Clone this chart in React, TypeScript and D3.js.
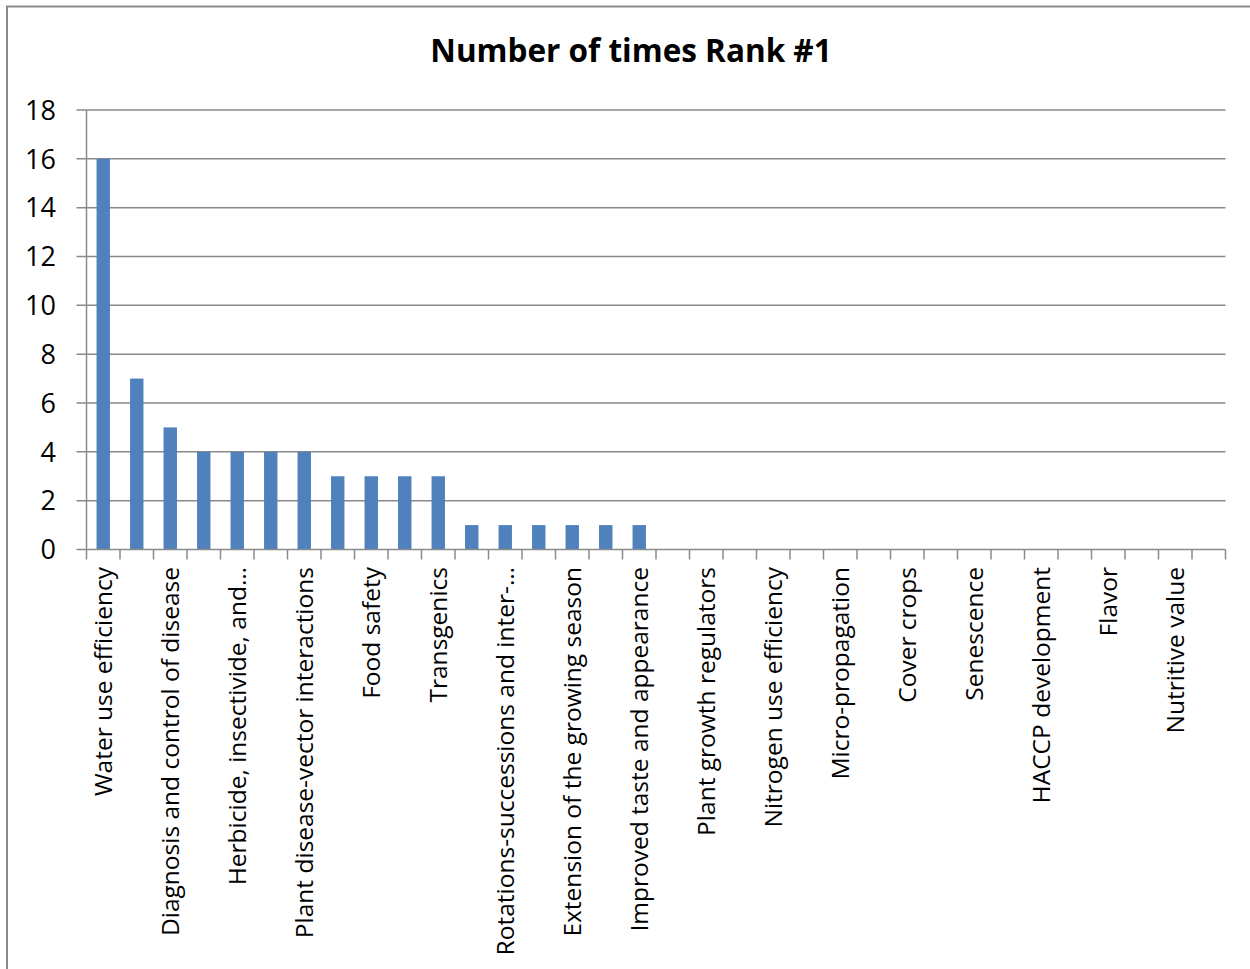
import React from "react";
import * as d3 from "d3";

// Category labels; Excel-style axis shows every second one, so alternate entries are blank
const categories: string[] = [
  "Water use efficiency", "",
  "Diagnosis and control of disease", "",
  "Herbicide, insectivide, and…", "",
  "Plant disease-vector interactions", "",
  "Food safety", "",
  "Transgenics", "",
  "Rotations-successions and inter-…", "",
  "Extension of the growing season", "",
  "Improved taste and appearance", "",
  "Plant growth regulators", "",
  "Nitrogen use efficiency", "",
  "Micro-propagation", "",
  "Cover crops", "",
  "Senescence", "",
  "HACCP development", "",
  "Flavor", "",
  "Nutritive value", "",
];

const rankOneCounts: number[] = [
  16, 7, 5, 4, 4, 4, 4, 3, 3, 3, 3, 1, 1, 1, 1, 1, 1,
  0, 0, 0, 0, 0, 0, 0, 0, 0, 0, 0, 0, 0, 0, 0, 0, 0,
];

const yTicks: number[] = [0, 2, 4, 6, 8, 10, 12, 14, 16, 18];

const chartTitle = "Number of times Rank #1";

const W = 1250;
const H = 969;
const plot = { left: 86.5, right: 1225.5, top: 110, bottom: 549.5 };
const FONT = "'Open Sans', 'Noto Sans', sans-serif";
const GRID = "#8a8a8a";
const BAR = "#4f81bd";

export default function App() {
  const idx = categories.map((_, i) => i);
  const x = d3
    .scaleBand<number>()
    .domain(idx)
    .range([plot.left, plot.right])
    .padding(0);
  const y = d3.scaleLinear().domain([0, 18]).range([plot.bottom, plot.top]);
  const bw = x.bandwidth() * 0.4;

  const tickXs = idx.map((i) => x(i) as number).concat([plot.right]);

  return (
    <svg
      width={W}
      height={H}
      style={{ position: "absolute", left: 0, top: 0, display: "block", background: "#fff" }}
    >
      {/* chart frame */}
      <rect x={7} y={6.5} width={1300} height={1000} fill="#fff" stroke={GRID} strokeWidth={2} />

      <text
        x={631}
        y={62}
        textAnchor="middle"
        fontFamily={FONT}
        fontWeight={700}
        fontSize={31.5}
        fill="#000"
      >
        {chartTitle}
      </text>

      {/* horizontal gridlines and y ticks */}
      {yTicks.map((t) => (
        <g key={t}>
          <line
            x1={plot.left - 10}
            x2={t === 0 ? plot.left - 10 : plot.right}
            y1={y(t)}
            y2={y(t)}
            stroke={GRID}
            strokeWidth={1.5}
          />
          <text
            x={56}
            y={y(t)}
            dy="0.36em"
            textAnchor="end"
            fontFamily={FONT}
            fontSize={27}
            fill="#000"
          >
            {t}
          </text>
        </g>
      ))}

      {/* bars */}
      {rankOneCounts.map((v, i) => (
        <rect
          key={i}
          x={(x(i) as number) + (x.bandwidth() - bw) / 2}
          y={y(v)}
          width={bw}
          height={y(0) - y(v)}
          fill={BAR}
        />
      ))}

      {/* axes */}
      <line x1={plot.left} x2={plot.left} y1={plot.top} y2={plot.bottom} stroke={GRID} strokeWidth={1.5} />
      <line x1={plot.left - 10} x2={plot.right} y1={plot.bottom} y2={plot.bottom} stroke={GRID} strokeWidth={1.5} />
      {tickXs.map((tx, i) => (
        <line key={i} x1={tx} x2={tx} y1={plot.bottom} y2={plot.bottom + 10} stroke={GRID} strokeWidth={1.5} />
      ))}

      {/* category labels */}
      {categories.map((c, i) =>
        c ? (
          <text
            key={i}
            transform={`translate(${(x(i) as number) + x.bandwidth() / 2},567) rotate(-90)`}
            dy="0.36em"
            textAnchor="end"
            fontFamily={FONT}
            fontSize={24.5}
            fill="#000"
          >
            {c}
          </text>
        ) : null
      )}
    </svg>
  );
}
